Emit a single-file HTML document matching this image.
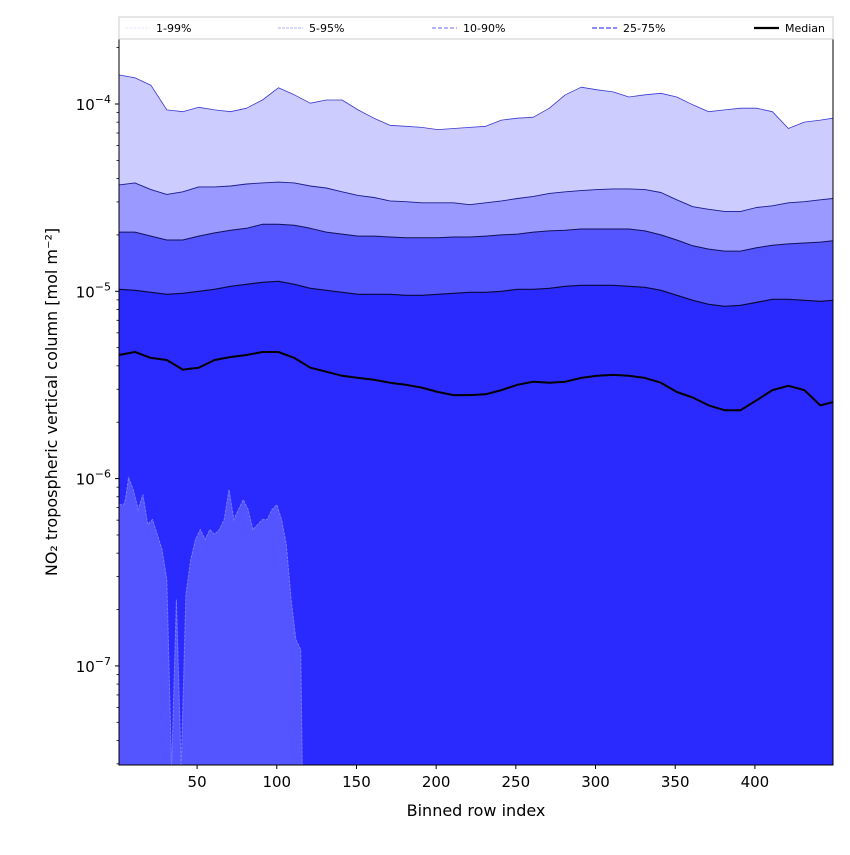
<!DOCTYPE html>
<html><head><meta charset="utf-8"><style>
body{margin:0;background:#fff;font-family:"Liberation Sans","DejaVu Sans",sans-serif}
svg text{font-family:"DejaVu Sans","Liberation Sans",sans-serif}
</style></head><body>
<svg id="chart" width="850" height="850" xmlns="http://www.w3.org/2000/svg"></svg>
<script>
const rows=[1,11,21,31,41,51,61,71,81,91,101,111,121,131,141,151,161,171,181,191,201,211,221,231,241,251,261,271,281,291,301,311,321,331,341,351,361,371,381,391,401,411,421,431,441,449];
const p99=[1.43e-4,1.38e-4,1.26e-4,0.93e-4,0.91e-4,0.96e-4,0.93e-4,0.91e-4,0.95e-4,1.05e-4,1.22e-4,1.12e-4,1.01e-4,1.05e-4,1.05e-4,0.93e-4,0.84e-4,0.77e-4,0.76e-4,0.75e-4,0.73e-4,0.74e-4,0.75e-4,0.76e-4,0.82e-4,0.84e-4,0.85e-4,0.95e-4,1.12e-4,1.23e-4,1.19e-4,1.16e-4,1.09e-4,1.12e-4,1.14e-4,1.09e-4,0.99e-4,0.91e-4,0.93e-4,0.95e-4,0.95e-4,0.91e-4,0.74e-4,0.80e-4,0.82e-4,0.84e-4];
const p95=[3.70e-5,3.79e-5,3.49e-5,3.29e-5,3.40e-5,3.61e-5,3.61e-5,3.65e-5,3.74e-5,3.79e-5,3.83e-5,3.79e-5,3.65e-5,3.56e-5,3.40e-5,3.25e-5,3.17e-5,3.04e-5,3.01e-5,2.97e-5,2.97e-5,2.97e-5,2.90e-5,2.97e-5,3.04e-5,3.13e-5,3.21e-5,3.33e-5,3.40e-5,3.45e-5,3.49e-5,3.52e-5,3.52e-5,3.49e-5,3.37e-5,3.08e-5,2.83e-5,2.74e-5,2.67e-5,2.67e-5,2.80e-5,2.86e-5,2.97e-5,3.01e-5,3.08e-5,3.13e-5];
const p90=[2.07e-5,2.07e-5,1.97e-5,1.88e-5,1.88e-5,1.97e-5,2.05e-5,2.12e-5,2.17e-5,2.28e-5,2.28e-5,2.25e-5,2.17e-5,2.07e-5,2.02e-5,1.97e-5,1.97e-5,1.95e-5,1.93e-5,1.93e-5,1.93e-5,1.95e-5,1.95e-5,1.97e-5,2.00e-5,2.02e-5,2.07e-5,2.10e-5,2.12e-5,2.15e-5,2.15e-5,2.15e-5,2.15e-5,2.10e-5,2.00e-5,1.88e-5,1.75e-5,1.68e-5,1.64e-5,1.64e-5,1.71e-5,1.76e-5,1.79e-5,1.81e-5,1.83e-5,1.86e-5];
const p75=[1.025e-5,1.012e-5,0.988e-5,0.964e-5,0.976e-5,1.0e-5,1.025e-5,1.063e-5,1.090e-5,1.117e-5,1.131e-5,1.090e-5,1.038e-5,1.012e-5,0.988e-5,0.964e-5,0.964e-5,0.964e-5,0.952e-5,0.952e-5,0.964e-5,0.976e-5,0.988e-5,0.988e-5,1.0e-5,1.025e-5,1.025e-5,1.038e-5,1.063e-5,1.077e-5,1.077e-5,1.077e-5,1.063e-5,1.050e-5,1.012e-5,0.952e-5,0.895e-5,0.852e-5,0.832e-5,0.842e-5,0.873e-5,0.906e-5,0.906e-5,0.895e-5,0.884e-5,0.895e-5];
const median=[4.57e-6,4.74e-6,4.41e-6,4.30e-6,3.82e-6,3.91e-6,4.30e-6,4.46e-6,4.57e-6,4.74e-6,4.74e-6,4.41e-6,3.91e-6,3.72e-6,3.54e-6,3.45e-6,3.37e-6,3.25e-6,3.17e-6,3.06e-6,2.90e-6,2.79e-6,2.79e-6,2.82e-6,2.97e-6,3.17e-6,3.29e-6,3.25e-6,3.29e-6,3.45e-6,3.54e-6,3.58e-6,3.54e-6,3.45e-6,3.25e-6,2.90e-6,2.71e-6,2.46e-6,2.32e-6,2.32e-6,2.62e-6,2.97e-6,3.13e-6,2.97e-6,2.46e-6,2.56e-6];
const lowRows=[1,4,5,7,10,13,16,19,22,25,28,31,34,37,40,43,46,49,52,55,58,61,64,67,70,73,76,79,82,85,88,91,94,97,100,103,106,109,112,115,116,117];
const p25low=[0.726e-6,0.726e-6,0.772e-6,1.01e-6,0.873e-6,0.683e-6,0.821e-6,0.568e-6,0.604e-6,0.503e-6,0.418e-6,0.289e-6,0,0.226e-6,0,0.240e-6,0.369e-6,0.473e-6,0.534e-6,0.473e-6,0.534e-6,0.503e-6,0.534e-6,0.604e-6,0.873e-6,0.604e-6,0.683e-6,0.772e-6,0.683e-6,0.534e-6,0.568e-6,0.604e-6,0.604e-6,0.683e-6,0.726e-6,0.604e-6,0.444e-6,0.226e-6,0.138e-6,0.122e-6,0,0];
const xTicks=[50,100,150,200,250,300,350,400];
const yDecades=[-7,-6,-5,-4];

const L=119,R=833,T=39,B=765;
const xMin=1,xMax=449,lMin=-7.529,lMax=-3.653;
const X=v=>L+(v-xMin)/(xMax-xMin)*(R-L);
const Y=v=>{if(v<=0)return B+5;let y=T+(lMax-Math.log10(v))/(lMax-lMin)*(B-T);return Math.min(y,B+5);};
const svg=document.getElementById('chart');
const NS='http://www.w3.org/2000/svg';
function mk(tag,attrs,parent){const e=document.createElementNS(NS,tag);for(const k in attrs)e.setAttribute(k,attrs[k]);(parent||svg).appendChild(e);return e;}
const clip=mk('clipPath',{id:'c'});mk('rect',{x:L,y:T,width:R-L,height:B-T},clip);
const g=mk('g',{'clip-path':'url(#c)'});
function pts(xs,ys){return xs.map((r,i)=>X(r).toFixed(1)+','+Y(ys[i]).toFixed(1));}
function band(upper,lowerPts,fill,name){
  const up=pts(rows,upper);
  const e=mk('polygon',{points:up.concat(lowerPts).join(' '),fill:fill},g);
  
  
}
const bottom=[X(449)+','+(B+5),X(1)+','+(B+5)];
band(p99,bottom,'#ccccff','band-1-99');
band(p95,bottom,'#9999ff','band-5-95');
band(p90,bottom,'#5555ff','band-10-90');
band(p75,bottom,'#2a2aff','band-25-75');
// lower 25% boundary (spiky)
const lowP=pts(lowRows,p25low);
const lowPoly=mk('polygon',{points:lowP.concat([X(117)+','+(B+5),X(1)+','+(B+5)]).join(' '),fill:'#5555ff'},g);


const lowLine=mk('polyline',{points:lowP.join(' '),fill:'none',stroke:'#7777ff','stroke-width':1,'stroke-dasharray':'3,1'},g);


function line(arr,stroke,w,name){
  const e=mk('polyline',{points:pts(rows,arr).join(' '),fill:'none',stroke:stroke,'stroke-width':w,'stroke-linejoin':'round'},g);
  
  
}
line(p99,'#3a3ad0',0.8,'p99-line');
line(p95,'#1a1a90',0.9,'p95-line');
line(p90,'#10105a',1,'p90-line');
line(p75,'#08083a',1.2,'p75-line');
line(median,'#000',2,'median-line');
// frame
const fr=mk('rect',{x:L,y:T,width:R-L,height:B-T,fill:'none',stroke:'#000','stroke-width':1});


// x ticks
xTicks.forEach(t=>{
  mk('line',{x1:X(t),x2:X(t),y1:B,y2:B+4,stroke:'#000'});
  const tx=mk('text',{x:X(t),y:B+22,'text-anchor':'middle','font-size':15});tx.textContent=t;
  
  
});
// y ticks
yDecades.forEach(d=>{
  const y=Y(Math.pow(10,d));
  mk('line',{x1:L-4,x2:L,y1:y,y2:y,stroke:'#000'});
  const tx=mk('text',{x:L-8,y:y+6,'text-anchor':'end','font-size':15});
  tx.innerHTML='10<tspan dy="-7" font-size="11">−'+(-d)+'</tspan>';
  
  
});
for(let d=-8;d<=-4;d++)for(let m=2;m<=9;m++){const v=m*Math.pow(10,d);const y=Y(v);if(y>T&&y<B)mk('line',{x1:L-2.5,x2:L,y1:y,y2:y,stroke:'#000','stroke-width':0.8});}
const xt=mk('text',{x:476,y:816,'text-anchor':'middle','font-size':16});xt.textContent='Binned row index';


const yt=mk('text',{x:0,y:0,'text-anchor':'middle','font-size':16,transform:'translate(57,402) rotate(-90)'});yt.textContent='NO₂ tropospheric vertical column [mol m⁻²]';


// legend
const lg=mk('g',{});


mk('rect',{x:119,y:17,width:714,height:22,fill:'#fff',stroke:'#ccc','stroke-width':1},lg);
const legNames=['1-99%','5-95%','10-90%','25-75%','Median'];
const legX=[125,278,432,592,754];
const legStroke=['#e0e0f8','#b0b0f0','#8888f0','#6666ff','#000'];
const legDash=['3,1','3,1','4,2','5,2','none'];
const legW=[0.8,0.9,1.2,1.6,2.2];
legNames.forEach((n,i)=>{
  mk('line',{x1:legX[i],x2:legX[i]+25,y1:28,y2:28,stroke:legStroke[i],'stroke-width':legW[i],'stroke-dasharray':legDash[i]},lg);
  const t=mk('text',{x:legX[i]+31,y:32,'font-size':11},lg);t.textContent=n;
  
  
});
</script>
</body></html>
